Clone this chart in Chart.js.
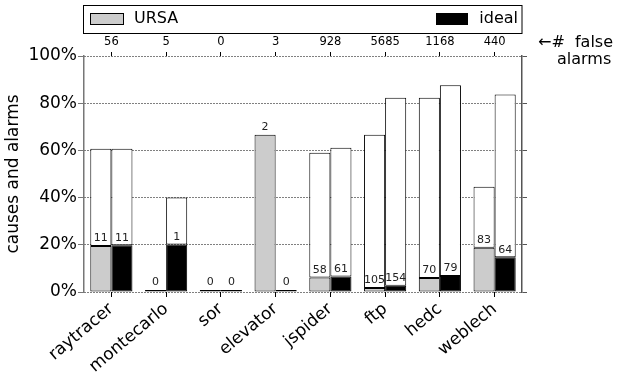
<!DOCTYPE html>
<html lang="en">
<head>
  <meta charset="UTF-8">
  <title>causes and alarms</title>
  <script src="https://cdn.jsdelivr.net/npm/chart.js"></script>
  <style>
    body {
      margin: 0;
      background: #ffffff;
    }
    canvas {
      display: block;
    }
  </style>
</head>
<body>
  <canvas id="chart" width="622" height="372"></canvas>

  <script>
  // data (percent per benchmark)
  const benchmarks = ['raytracer', 'montecarlo', 'sor', 'elevator', 'jspider', 'ftp', 'hedc', 'weblech'];
  const falseAlarms = [56, 5, 0, 3, 928, 5685, 1168, 440];
  const ursaCauses = [19.5, 0, 0, 66.6, 6.1, 1.7, 5.9, 18.8];
  const ursaAlarms = [60.7, 0, 0, 66.6, 59.0, 66.6, 82.3, 44.6];
  const idealCauses = [19.8, 20.1, 0, 0, 6.6, 2.7, 6.8, 14.7];
  const idealAlarms = [60.7, 40.0, 0, 0, 61.1, 82.3, 87.6, 83.7];
  const ursaCounts = [11, 0, 0, 2, 58, 105, 70, 83];
  const idealCounts = [11, 1, 0, 0, 61, 154, 79, 64];
  const yTicks = [0, 20, 40, 60, 80, 100];

  const FONT = 'DejaVu Sans';
  const GRAY = '#cccccc';

  // upper (white) part of each bar = total minus lower part
  const ursaRest = ursaAlarms.map((t, i) => Math.max(0, t - ursaCauses[i]));
  const idealRest = idealAlarms.map((t, i) => Math.max(0, t - idealCauses[i]));

  const barLabels = {
    id: 'barLabels',
    afterDatasetsDraw(chart) {
      const ctx = chart.ctx;
      ctx.save();
      ctx.font = '11px "' + FONT + '"';
      ctx.fillStyle = '#222';
      ctx.textAlign = 'center';
      ctx.textBaseline = 'bottom';
      [[0, ursaCounts], [2, idealCounts]].forEach(([di, counts]) => {
        chart.getDatasetMeta(di).data.forEach((el, i) => {
          ctx.fillText(String(counts[i]), el.x, el.y - 2);
        });
      });
      ctx.restore();
    }
  };

  const legendBox = {
    id: 'legendBox',
    afterDraw(chart) {
      const ctx = chart.ctx;
      const a = chart.chartArea;
      ctx.save();
      ctx.strokeStyle = '#000';
      ctx.lineWidth = 1;
      ctx.strokeRect(a.left - 0.5, 5.5, a.right - a.left + 0.5, 28);
      ctx.fillStyle = GRAY;
      ctx.fillRect(a.left + 6.5, 13.5, 33, 11);
      ctx.strokeRect(a.left + 6.5, 13.5, 33, 11);
      ctx.fillStyle = '#000';
      ctx.fillRect(a.right - 86, 13, 32, 12);
      ctx.font = '16px "' + FONT + '"';
      ctx.textBaseline = 'middle';
      ctx.textAlign = 'left';
      ctx.fillText('URSA', a.left + 50, 19);
      ctx.textAlign = 'right';
      ctx.fillText('ideal', a.right - 4, 19);
      // note for the top axis
      ctx.textAlign = 'left';
      ctx.fillText('\u2190#  false', a.right + 16, 43);
      ctx.fillText('alarms', a.right + 35, 60);
      ctx.restore();
    }
  };

  const ctx = document.getElementById('chart').getContext('2d');
  new Chart(ctx, {
    type: 'bar',
    data: {
      labels: benchmarks,
      datasets: [
        { label: 'URSA', data: ursaCauses, stack: 'u', backgroundColor: GRAY, minBarLength: 2 },
        { label: 'URSA alarms', data: ursaRest, stack: 'u', backgroundColor: '#fff' },
        { label: 'ideal', data: idealCauses, stack: 'i', backgroundColor: '#000', minBarLength: 2 },
        { label: 'ideal alarms', data: idealRest, stack: 'i', backgroundColor: '#fff' }
      ]
    },
    options: {
      responsive: false,
      animation: false,
      layout: { padding: 0 },
      datasets: {
        bar: {
          borderColor: '#000',
          borderWidth: 1,
          borderSkipped: false,
          categoryPercentage: 0.77,
          barPercentage: 1.0
        }
      },
      plugins: {
        legend: { display: false },
        tooltip: { enabled: false }
      },
      scales: {
        x: {
          stacked: true,
          afterFit: s => { s.height = 80; },
          grid: { offset: false, drawOnChartArea: false, tickLength: 5, color: '#000' },
          border: { display: false },
          ticks: {
            font: { family: FONT, size: 17 },
            color: '#000',
            minRotation: 40,
            maxRotation: 40,
            padding: 2
          }
        },
        x2: {
          type: 'category',
          labels: falseAlarms.map(String),
          position: 'top',
          offset: true,
          afterFit: s => { s.height = 56; },
          grid: { offset: false, drawOnChartArea: false, tickLength: 4, color: '#000' },
          border: { display: false },
          ticks: { font: { family: FONT, size: 11.5 }, color: '#000', padding: 3 }
        },
        y: {
          stacked: true,
          min: 0,
          max: 100,
          afterFit: s => { s.width = 84; },
          afterBuildTicks: s => { s.ticks = yTicks.map(v => ({ value: v })); },
          title: {
            display: true,
            text: 'causes and alarms',
            font: { family: FONT, size: 17 },
            color: '#000',
            padding: { top: 3, bottom: 4 }
          },
          grid: { color: '#000', lineWidth: 1, tickLength: 6, tickColor: '#777', tickBorderDash: [] },
          border: { color: '#777', width: 1.5, dash: [1, 2] },
          ticks: {
            font: { family: FONT, size: 17 },
            color: '#000',
            padding: 1,
            callback: v => v + '%'
          }
        },
        y2: {
          position: 'right',
          min: 0,
          max: 100,
          afterFit: s => { s.width = 100; },
          afterBuildTicks: s => { s.ticks = yTicks.map(v => ({ value: v })); },
          grid: { drawOnChartArea: false, tickLength: 5, color: '#555' },
          border: { color: '#555', width: 1.5 },
          ticks: { display: false }
        }
      }
    },
    plugins: [barLabels, legendBox]
  });
  </script>
</body>
</html>
